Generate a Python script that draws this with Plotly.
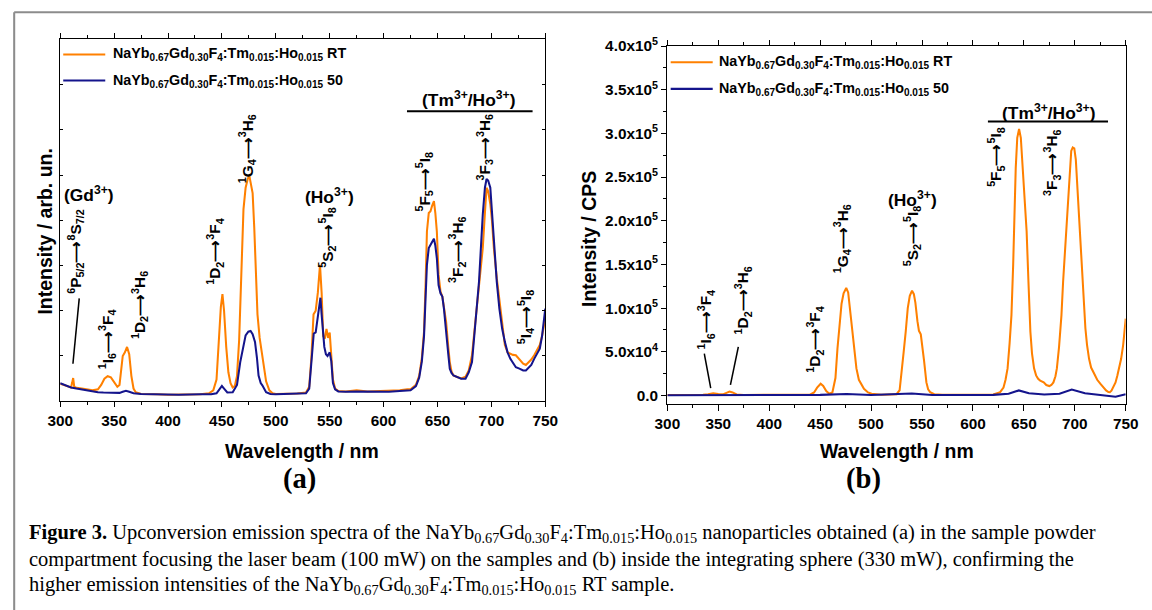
import plotly.graph_objects as go

# ---------------- data: panel (a), normalised intensity ----------------
wl_a_rt = [300, 305, 310, 311, 312, 313, 315, 320, 325, 330, 335, 338, 341, 344, 347, 350, 353, 355, 357, 358,
           360, 362, 364, 366, 368, 370, 375, 380, 390, 400, 410, 420, 430, 438, 442, 445, 447, 449, 450.5, 452,
           454, 456, 458, 460, 462, 464, 466, 468, 470, 472, 474, 475.5, 477, 478.5, 480, 481.5, 483, 485, 487, 489,
           491, 494, 497, 500, 510, 520, 528, 531, 533, 535, 537, 539, 541, 542.5, 544, 545.5, 547, 548.5, 550, 551.5,
           553, 555, 558, 565, 575, 585, 595, 605, 615, 622, 625, 630, 633, 635.5, 637.5, 639, 640.2, 641.9, 643.5, 645,
           646.7, 648, 649.4, 651, 652.8, 654.5, 656, 658, 660, 661.4, 663, 664.8, 668.2, 672, 676, 679, 682, 685,
           688.5, 692, 694, 695.5, 697, 699, 700.5, 702.3, 705, 707.4, 710, 712.5, 715, 717.6, 720, 722.7, 726, 729.5,
           732, 734.7, 737, 739.7, 742, 744.9, 747, 750]
int_a_rt = [0.048, 0.043, 0.038, 0.050, 0.064, 0.040, 0.037, 0.035, 0.032, 0.030, 0.033, 0.045, 0.062, 0.069, 0.066,
            0.052, 0.040, 0.045, 0.090, 0.125, 0.135, 0.150, 0.130, 0.070, 0.035, 0.025, 0.020, 0.019, 0.019, 0.018,
            0.018, 0.018, 0.019, 0.022, 0.030, 0.060, 0.150, 0.260, 0.296, 0.250, 0.150, 0.080, 0.050, 0.038, 0.042,
            0.070, 0.170, 0.380, 0.530, 0.590, 0.615, 0.622, 0.600, 0.575, 0.480, 0.350, 0.240, 0.175, 0.135, 0.100,
            0.055, 0.030, 0.022, 0.020, 0.021, 0.021, 0.024, 0.040, 0.120, 0.240, 0.250, 0.300, 0.377, 0.300, 0.180,
            0.173, 0.200, 0.175, 0.190, 0.120, 0.060, 0.035, 0.028, 0.027, 0.030, 0.027, 0.028, 0.027, 0.030, 0.033,
            0.033, 0.045, 0.070, 0.120, 0.192, 0.330, 0.469, 0.520, 0.525, 0.540, 0.553, 0.520, 0.469, 0.349, 0.303,
            0.289, 0.260, 0.219, 0.150, 0.108, 0.082, 0.071, 0.067, 0.063, 0.068, 0.085, 0.127, 0.215, 0.312, 0.423,
            0.520, 0.590, 0.580, 0.545, 0.500, 0.423, 0.340, 0.284, 0.210, 0.155, 0.135, 0.131, 0.128, 0.127, 0.115,
            0.104, 0.100, 0.108, 0.115, 0.127, 0.140, 0.155, 0.180, 0.229]

wl_a_50 = [300, 305, 310, 315, 320, 325, 330, 335, 340, 345, 350, 355, 358, 361, 364, 368, 375, 390, 410, 430, 440,
           445, 448, 450, 452, 455, 460, 464, 467, 470, 472, 474.5, 476.6, 478.5, 480.7, 482.5, 484, 486, 487.5, 491,
           495, 500, 510, 520, 528, 531, 533, 535.2, 537, 539, 541.4, 542.5, 543.7, 545, 546.5, 548, 550, 551.5, 553,
           555, 558, 565, 575, 585, 595, 605, 615, 622, 625, 630, 633, 635.5, 637.5, 639, 640.2, 641.9, 643.5, 645,
           646.7, 648, 649.4, 651, 652.8, 654.5, 656, 658, 660, 661.4, 663, 664.8, 668.2, 672, 676, 679, 682, 685,
           688.5, 692, 694, 695.5, 697, 699, 700.5, 702.3, 705, 707.4, 710, 712.5, 715, 717.6, 720, 722.7, 726, 729.5,
           732, 734.7, 737, 739.7, 742, 744.9, 747, 750]
int_a_50 = [0.050, 0.043, 0.038, 0.035, 0.032, 0.030, 0.027, 0.025, 0.024, 0.023, 0.022, 0.023, 0.026, 0.029, 0.026,
            0.022, 0.020, 0.019, 0.018, 0.019, 0.019, 0.022, 0.035, 0.042, 0.035, 0.024, 0.025, 0.045, 0.108, 0.155,
            0.182, 0.192, 0.194, 0.185, 0.164, 0.120, 0.071, 0.050, 0.044, 0.025, 0.020, 0.019, 0.020, 0.020, 0.022,
            0.035, 0.100, 0.187, 0.190, 0.230, 0.286, 0.240, 0.201, 0.150, 0.130, 0.125, 0.135, 0.110, 0.050, 0.033,
            0.027, 0.026, 0.027, 0.026, 0.027, 0.026, 0.028, 0.030, 0.030, 0.042, 0.065, 0.110, 0.180, 0.290, 0.377,
            0.423, 0.430, 0.440, 0.449, 0.430, 0.395, 0.321, 0.298, 0.289, 0.255, 0.201, 0.130, 0.090, 0.078, 0.071,
            0.066, 0.062, 0.062, 0.080, 0.108, 0.220, 0.330, 0.516, 0.590, 0.614, 0.610, 0.590, 0.520, 0.440, 0.330,
            0.256, 0.200, 0.164, 0.135, 0.117, 0.105, 0.094, 0.090, 0.085, 0.085, 0.094, 0.100, 0.117, 0.130, 0.145,
            0.180, 0.256]

# ---------------- data: panel (b), counts per second ----------------
wl_b_rt = [300, 320, 335, 340, 345, 350, 355, 358, 361, 364, 368, 375, 400, 430, 440, 444, 447, 450.5, 453, 456, 459,
           462, 465, 467, 469, 471, 473, 475.6, 477.5, 480, 482, 485.6, 488, 493, 497, 500.5, 510, 520, 525, 528,
           530.2, 532, 534, 536, 538, 540.2, 542, 543.5, 545.5, 547, 548.8, 550.5, 552, 554.3, 556, 558, 562, 570,
           590, 610, 620, 626.7, 630, 632, 634, 636, 637.8, 639.5, 640.5, 642, 643.5, 645.3, 647, 648.5, 650, 651.5,
           652.7, 654.5, 656.4, 658, 660, 662, 664, 666, 669.5, 672, 675, 677, 679, 681, 682.4, 684.5, 686.9, 688.5,
           690.6, 692, 693.6, 695, 696.5, 698, 699.5, 701, 702.5, 704, 705.5, 706.7, 708.5, 710.4, 712, 714, 716,
           719.6, 722, 725, 728, 730.7, 733, 734.4, 736, 738, 740, 741.8, 743.5, 745.5, 747.5, 750]
int_b_rt = [600, 500, 700, 1500, 2500, 1800, 1500, 3000, 4500, 3500, 1200, 600, 500, 500, 900, 3500, 9000, 13500,
            11000, 5000, 2000, 3500, 20000, 54000, 85000, 105000, 117000, 123000, 118000, 92000, 68000, 31000, 18000,
            7700, 3500, 2000, 800, 800, 1500, 6000, 27000, 50000, 73000, 100000, 114000, 120000, 116000, 106000,
            85000, 74000, 70000, 55000, 40000, 15000, 7000, 3800, 1500, 800, 700, 800, 1200, 3800, 9000, 18000, 31000,
            60000, 92000, 150000, 208000, 260000, 295000, 305000, 295000, 270000, 240000, 210000, 188000, 130000,
            73000, 48000, 31000, 23000, 19000, 17000, 15000, 12000, 10800, 12000, 15000, 22000, 31000, 55000, 92000,
            130000, 169000, 200000, 223000, 262000, 280000, 284000, 283000, 270000, 240000, 200000, 170000, 150000,
            110000, 77000, 58000, 42000, 32000, 23000, 18000, 13500, 9000, 5800, 4000, 3800, 5500, 9600, 15000, 23000,
            32000, 42000, 58000, 88000]

wl_b_50 = [300, 350, 362, 400, 450, 476, 500, 540, 560, 620, 635, 645, 655, 670, 685, 697, 710, 725, 740, 750]
int_b_50 = [300, 400, 1200, 500, 700, 1800, 600, 2200, 600, 700, 2000, 5800, 2500, 1200, 2000, 6900, 2500, 500,
            -1500, 1500]

series_names = ["NaYb<sub>0.67</sub>Gd<sub>0.30</sub>F<sub>4</sub>:Tm<sub>0.015</sub>:Ho<sub>0.015</sub> RT",
                "NaYb<sub>0.67</sub>Gd<sub>0.30</sub>F<sub>4</sub>:Tm<sub>0.015</sub>:Ho<sub>0.015</sub> 50"]
x_ticks = [300, 350, 400, 450, 500, 550, 600, 650, 700, 750]
y_ticks_b = [0, 50000, 100000, 150000, 200000, 250000, 300000, 350000, 400000]
y_ticktext_b = ["0.0", "5.0x10<sup>4</sup>", "1.0x10<sup>5</sup>", "1.5x10<sup>5</sup>", "2.0x10<sup>5</sup>",
                "2.5x10<sup>5</sup>", "3.0x10<sup>5</sup>", "3.5x10<sup>5</sup>", "4.0x10<sup>5</sup>"]

# ---------------- screen geometry ----------------
# Layout positions below are screen pixels.  The page body keeps its default
# 8 px margin and the page is displayed slightly reduced (SCALE) with a small
# offset, so screen pixels are converted to figure-paper fractions here.
SCALE = 0.977
SHIFT_X, SHIFT_Y = 4.0, 3.0
BODY = 8
W, H = 1168, 614
ORANGE = "#ff8000"
NAVY = "#14148c"
SANS = "Liberation Sans"
SERIF = "Liberation Serif"


def fx(x):
    return ((x - SHIFT_X) / SCALE - BODY) / W


def fy(y):
    return 1 - ((y - SHIFT_Y) / SCALE - BODY) / H


def sz(v):
    return v / SCALE


fig = go.Figure()
fig.add_trace(go.Scatter(x=wl_a_rt, y=int_a_rt, mode="lines", line=dict(color=ORANGE, width=sz(2)),
                         xaxis="x", yaxis="y", showlegend=False))
fig.add_trace(go.Scatter(x=wl_a_50, y=int_a_50, mode="lines", line=dict(color=NAVY, width=sz(2)),
                         xaxis="x", yaxis="y", showlegend=False))
fig.add_trace(go.Scatter(x=wl_b_rt, y=int_b_rt, mode="lines", line=dict(color=ORANGE, width=sz(2)),
                         xaxis="x2", yaxis="y2", showlegend=False))
fig.add_trace(go.Scatter(x=wl_b_50, y=int_b_50, mode="lines", line=dict(color=NAVY, width=sz(2)),
                         xaxis="x2", yaxis="y2", showlegend=False))

tickfont = dict(family=SANS, size=sz(15), color="black", weight="bold")
axis_line = dict(showline=True, linecolor="black", linewidth=sz(1.3), showgrid=False, zeroline=False)
common_x = dict(range=[300, 750], tickvals=x_ticks, ticks="outside", ticklen=sz(5), tickwidth=sz(1.3),
                tickcolor="black", mirror="allticks", tickfont=tickfont,
                minor=dict(dtick=25, tick0=300, ticks="outside", ticklen=sz(3), tickcolor="black", showgrid=False),
                **axis_line)

fig.update_layout(
    width=W, height=H, margin=dict(l=0, r=0, t=0, b=0),
    paper_bgcolor="white", plot_bgcolor="white",
    font=dict(family=SANS, color="black"),
    xaxis=dict(domain=[fx(59), fx(543.7)], anchor="y", **common_x),
    yaxis=dict(domain=[fy(399), fy(39)], anchor="x", range=[0, 1], dtick=0.125, tick0=0,
               showticklabels=False, ticks="inside", ticklen=sz(3), tickcolor="black", mirror="ticks",
               **axis_line),
    xaxis2=dict(domain=[fx(665.7), fx(1123.7)], anchor="y2", **common_x),
    yaxis2=dict(domain=[fy(402), fy(45.7)], anchor="x2", range=[-10000, 400000],
                tickvals=y_ticks_b, ticktext=y_ticktext_b, ticks="outside", ticklen=sz(5), tickwidth=sz(1.3),
                tickcolor="black", mirror=True, tickfont=tickfont,
                minor=dict(dtick=25000, tick0=0, ticks="outside", ticklen=sz(3), tickcolor="black", showgrid=False),
                **axis_line),
)

shapes = []
annotations = []


def hline(x0, y0, x1, y1, color="black", width=1.5):
    shapes.append(dict(type="line", xref="paper", yref="paper", x0=fx(x0), y0=fy(y0), x1=fx(x1), y1=fy(y1),
                       line=dict(color=color, width=sz(width))))


def label(text, x, y, size=15, angle=0, family=SANS, bold=True, xanchor="center"):
    t = f"<b>{text}</b>" if bold else text
    annotations.append(dict(text=t, x=fx(x), y=fy(y), xref="paper", yref="paper", showarrow=False,
                            textangle=angle, xanchor=xanchor, yanchor="middle",
                            font=dict(family=family, size=sz(size), color="black")))


ARROW = "\u27f6"


def trans(a, b):
    return f"{a}{ARROW}{b}"


# outer frame of the figure
hline(13, 12, 1152, 12, color="#8c8c8c", width=2)
hline(13, 12, 13, 610, color="#8c8c8c", width=2)

# legends (line sample + text) for both panels
for (lx, ly0, ly1, tx) in [(62, 54, 80, 110), (669, 61.7, 88.3, 715.5)]:
    hline(lx, ly0, lx + 42, ly0, color=ORANGE, width=2)
    hline(lx, ly1, lx + 42, ly1, color=NAVY, width=2)
    label(series_names[0], tx, ly0, size=14, xanchor="left")
    label(series_names[1], tx, ly1, size=14, xanchor="left")

# panel (a) labels
label("(Gd<sup>3+</sup>)", 88, 193, size=17)
label(trans("<sup>6</sup>P<sub>5/2</sub>", "<sup>8</sup>S<sub>7/2</sub>"), 75, 250, angle=-90)
label(trans("<sup>1</sup>I<sub>6</sub>", "<sup>3</sup>F<sub>4</sub>"), 106, 337, angle=-90)
label(trans("<sup>1</sup>D<sub>2</sub>", "<sup>3</sup>H<sub>6</sub>"), 138, 303, angle=-90)
label(trans("<sup>1</sup>D<sub>2</sub>", "<sup>3</sup>F<sub>4</sub>"), 214, 250, angle=-90)
label(trans("<sup>1</sup>G<sub>4</sub>", "<sup>3</sup>H<sub>6</sub>"), 246, 148, angle=-90)
label("(Ho<sup>3+</sup>)", 328, 195, size=17)
label(trans("<sup>5</sup>S<sub>2</sub>", "<sup>5</sup>I<sub>8</sub>"), 326, 236, angle=-90)
label(trans("<sup>5</sup>F<sub>5</sub>", "<sup>5</sup>I<sub>8</sub>"), 423, 180, angle=-90)
label(trans("<sup>3</sup>F<sub>2</sub>", "<sup>3</sup>H<sub>6</sub>"), 456, 249, angle=-90)
label(trans("<sup>3</sup>F<sub>3</sub>", "<sup>3</sup>H<sub>6</sub>"), 483, 147, angle=-90)
label(trans("<sup>5</sup>I<sub>4</sub>", "<sup>5</sup>I<sub>8</sub>"), 524, 316, angle=-90)
label("(Tm<sup>3+</sup>/Ho<sup>3+</sup>)", 467, 98, size=17)
hline(405.5, 110.5, 531, 110.5, width=2)
hline(71.7, 361.7, 78, 296.7, width=1.5)

# panel (b) labels
label("(Tm<sup>3+</sup>/Ho<sup>3+</sup>)", 1047, 111, size=17)
hline(986, 120.7, 1106, 120.7, width=2)
label(trans("<sup>5</sup>F<sub>5</sub>", "<sup>5</sup>I<sub>8</sub>"), 994, 156, angle=-90)
label(trans("<sup>3</sup>F<sub>3</sub>", "<sup>3</sup>H<sub>6</sub>"), 1050, 162, angle=-90)
label("(Ho<sup>3+</sup>)", 911, 198, size=17)
label(trans("<sup>5</sup>S<sub>2</sub>", "<sup>5</sup>I<sub>8</sub>"), 911, 235, angle=-90)
label(trans("<sup>1</sup>G<sub>4</sub>", "<sup>3</sup>H<sub>6</sub>"), 841, 237, angle=-90)
label(trans("<sup>1</sup>D<sub>2</sub>", "<sup>3</sup>F<sub>4</sub>"), 813, 338, angle=-90)
label(trans("<sup>1</sup>I<sub>6</sub>", "<sup>3</sup>F<sub>4</sub>"), 704, 318, angle=-90)
label(trans("<sup>1</sup>D<sub>2</sub>", "<sup>3</sup>H<sub>6</sub>"), 741, 299, angle=-90)
hline(702.6, 351.7, 709, 386, width=1.5)
hline(736.6, 345, 728.7, 382.7, width=1.5)

# axis titles
label("Intensity / arb. un.", 44, 230, size=19, angle=-90)
label("Wavelength / nm", 301, 449, size=19)
label("Intensity / CPS", 588, 238, size=19, angle=-90)
label("Wavelength / nm", 895, 449, size=19)

# panel letters
label("(a)", 298, 476, size=28, family=SERIF)
label("(b)", 862, 476, size=28, family=SERIF)

# caption
compound = "NaYb<sub>0.67</sub>Gd<sub>0.30</sub>F<sub>4</sub>:Tm<sub>0.015</sub>:Ho<sub>0.015</sub>"
caption_lines = [
    f"<b>Figure 3.</b> Upconversion emission spectra of the {compound} nanoparticles obtained (a) in the sample powder",
    "compartment focusing the laser beam (100 mW) on the samples and (b) inside the integrating sphere (330 mW), confirming the",
    f"higher emission intensities of the {compound} RT sample.",
]
for i, line in enumerate(caption_lines):
    label(line, 26, 531 + i * 25.8, size=20.0, family=SERIF, bold=False, xanchor="left")

fig.update_layout(shapes=shapes, annotations=annotations)
fig.write_html("out.html")
